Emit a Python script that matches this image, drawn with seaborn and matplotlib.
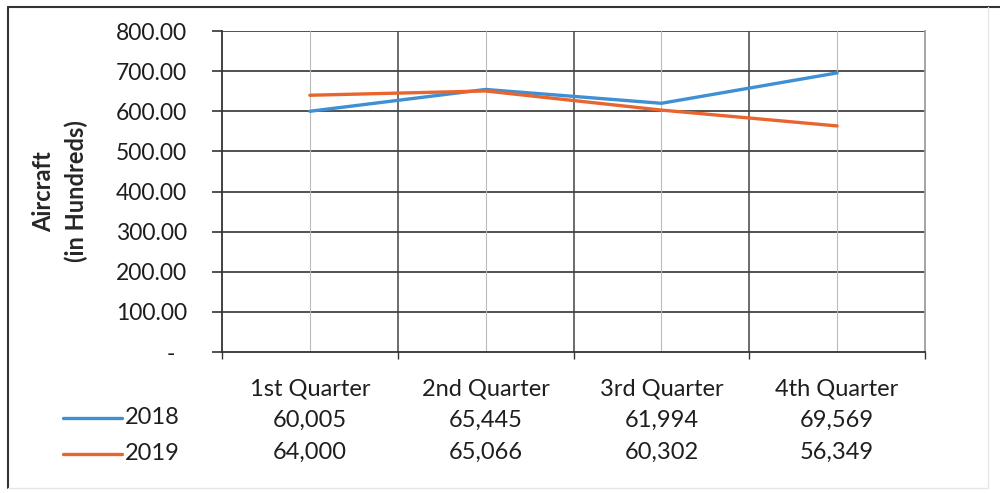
import pandas as pd
import seaborn as sns
import matplotlib.pyplot as plt
from matplotlib.lines import Line2D

quarters = ['1st Quarter', '2nd Quarter', '3rd Quarter', '4th Quarter']
years = ['2018', '2019']
aircraft_2018 = [600.05, 654.45, 619.94, 695.69]
aircraft_2019 = [640.00, 650.66, 603.02, 563.49]
y_ticks = [0, 100, 200, 300, 400, 500, 600, 700, 800]

colors = {'2018': '#3f8fd4', '2019': '#e9652f'}

df = pd.DataFrame({
    'Quarter': quarters * 2,
    'Year': [years[0]] * 4 + [years[1]] * 4,
    'Aircraft': aircraft_2018 + aircraft_2019,
})

sns.set_theme(style='white')
plt.rcParams['font.family'] = ['Lato', 'DejaVu Sans']
plt.rcParams['text.color'] = '#1e1e1e'

fig = plt.figure(figsize=(10, 4.93), dpi=100)
ax = fig.add_axes([0.222, 0.286, 0.703, 0.651])

sns.lineplot(data=df, x='Quarter', y='Aircraft', hue='Year', palette=colors,
             linewidth=2.4, legend=False, ax=ax, sort=False)

ax.set_xlim(-0.5, 3.5)
ax.set_ylim(0, 800)
ax.set_yticks(y_ticks)
ax.set_yticklabels([f'{v:,.2f}' if v else '-  ' for v in y_ticks], fontsize=16.5, color='#1e1e1e')
ax.set_xticks([i - 0.5 for i in range(len(quarters) + 1)])
ax.set_xticklabels([])
ax.tick_params(axis='y', length=7, width=1.2, color='#333333', pad=18, left=True)
ax.tick_params(axis='x', length=5, width=1.0, color='#333333', bottom=True)

# grid: black horizontals, dark boundaries and light centre lines
for v in y_ticks[1:]:
    ax.axhline(v, color='#333333', lw=1.2, zorder=0)
for i in range(1, len(quarters)):
    ax.axvline(i - 0.5, color='#444444', lw=1.1, zorder=0)
for i in range(len(quarters)):
    ax.axvline(i, color='#bbbbbb', lw=0.8, zorder=0)

for side in ['left', 'bottom']:
    ax.spines[side].set_color('#333333')
    ax.spines[side].set_linewidth(1.3)
ax.spines['right'].set_color('#999999')
ax.spines['top'].set_visible(False)

ax.set_xlabel('')
ax.set_ylabel('Aircraft\n(in Hundreds)', fontsize=17, fontweight='bold', linespacing=1.5)
ax.yaxis.set_label_coords(-0.19, 0.5)

# data table under the plot
trans = ax.get_xaxis_transform()
for i, q in enumerate(quarters):
    ax.text(i, -0.115, q, transform=trans, ha='center', va='center', fontsize=17)
    ax.text(i, -0.212, f'{round(aircraft_2018[i] * 100):,}', transform=trans,
            ha='center', va='center', fontsize=17)
    ax.text(i, -0.312, f'{round(aircraft_2019[i] * 100):,}', transform=trans,
            ha='center', va='center', fontsize=17)

for yr, fy in zip(years, [1 - 418 / 493, 1 - 454 / 493]):
    fig.text(0.125, fy, yr, ha='left', va='center', fontsize=17)
    fig.add_artist(Line2D([0.063, 0.122], [fy, fy], color=colors[yr], lw=2.4))

# outer chart frame
fig.add_artist(Line2D([0.008, 0.008], [0.01, 0.986], color='#333333', lw=1.5))
fig.add_artist(Line2D([0.008, 1.0], [0.986, 0.986], color='#333333', lw=1.5))
fig.add_artist(Line2D([0.988, 0.988], [0.01, 0.986], color='#e6e6e6', lw=1.0))
fig.add_artist(Line2D([0.008, 0.988], [0.01, 0.01], color='#e6e6e6', lw=1.0))

fig.savefig('out.png', dpi=100)
